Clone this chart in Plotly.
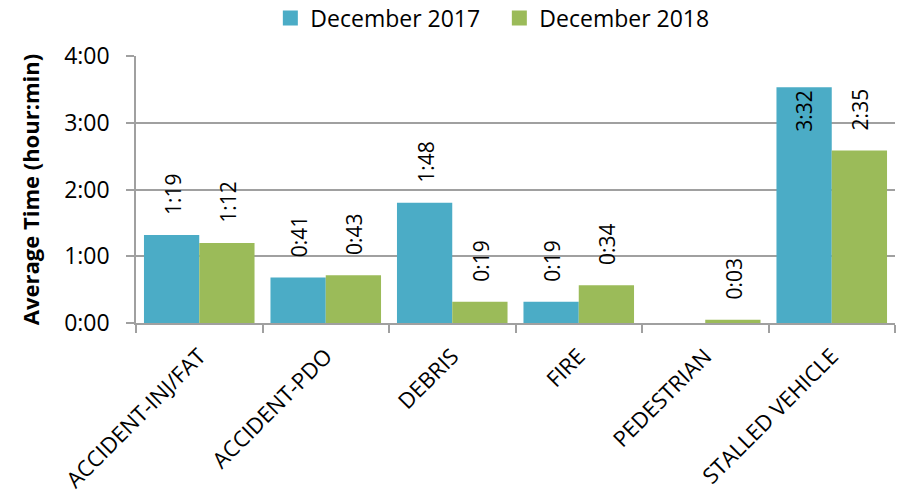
import plotly.graph_objects as go

categories = ["ACCIDENT-INJ/FAT", "ACCIDENT-PDO", "DEBRIS", "FIRE", "PEDESTRIAN", "STALLED VEHICLE"]
minutes_2017 = [79, 41, 108, 19, None, 212]
minutes_2018 = [72, 43, 19, 34, 3, 155]
labels_2017 = ["1:19", "0:41", "1:48", "0:19", "", "3:32"]
labels_2018 = ["1:12", "0:43", "0:19", "0:34", "0:03", "2:35"]
pos_2017 = ["outside", "outside", "outside", "outside", "outside", "inside"]
pos_2018 = ["outside"] * 6
tick_vals = [0, 1, 2, 3, 4]
tick_text = ["0:00", "1:00", "2:00", "3:00", "4:00"]
series_names = ["December 2017", "December 2018"]
colors = ["#4BACC6", "#9BBB59"]

hours_2017 = [m / 60 if m is not None else None for m in minutes_2017]
hours_2018 = [m / 60 for m in minutes_2018]

PAD = "<span style='font-size:22px'>\u00a0\u00a0\u00a0</span>"
def padded(labels, positions):
    return [(PAD + t if (t and p == "outside") else t) for t, p in zip(labels, positions)]

FONT = "Open Sans"
FS = 21

fig = go.Figure()
for name, ys, labels, pos, col in [
    (series_names[0], hours_2017, labels_2017, pos_2017, colors[0]),
    (series_names[1], hours_2018, labels_2018, pos_2018, colors[1]),
]:
    fig.add_trace(go.Bar(
        name=name, x=categories, y=ys, showlegend=False,
        marker=dict(color=col, line=dict(width=0)),
        text=padded(labels, pos), textposition=pos, textangle=-90,
        insidetextanchor="end",
        textfont=dict(family=FONT, size=FS, color="black"),
        cliponaxis=False, hoverinfo="x+y",
    ))
# legend entries with square symbols
for name, col in zip(series_names, colors):
    fig.add_trace(go.Scatter(
        name=name, x=[None], y=[None], mode="markers",
        marker=dict(symbol="square", size=15, color=col),
    ))

fig.update_layout(
    width=901, height=496,
    margin=dict(l=136, r=6, t=56, b=173, autoexpand=False),
    paper_bgcolor="white", plot_bgcolor="white",
    barmode="group", bargap=0.126, bargroupgap=0,
    font=dict(family=FONT, size=FS, color="black"),
    uniformtext=dict(minsize=FS, mode="show"),
    legend=dict(orientation="h", x=0.177, xanchor="left", y=1.142, yanchor="middle",
                font=dict(family=FONT, size=23), itemwidth=30, entrywidth=184,
                tracegroupgap=0),
    xaxis=dict(
        showline=True, linecolor="#a0a0a0", linewidth=1.5,
        ticks="outside", tickson="boundaries", ticklen=8, tickcolor="#a0a0a0", tickwidth=1.5,
        tickangle=-45, tickfont=dict(family=FONT, size=22),
        ticklabelstandoff=10,
        showgrid=False, automargin=False,
    ),
    yaxis=dict(
        range=[0, 4], tickvals=tick_vals, ticktext=tick_text,
        showline=True, linecolor="#a0a0a0", linewidth=1.5,
        ticks="outside", ticklen=8, tickcolor="#a0a0a0", tickwidth=1.5,
        ticklabelstandoff=12,
        showgrid=True, gridcolor="#a0a0a0", gridwidth=1.5,
        tickfont=dict(family=FONT, size=23),
        title=dict(text="<b>Average Time (hour:min)</b>", font=dict(family=FONT, size=22), standoff=18),
        zeroline=False, automargin=False,
    ),
)

fig.write_html("out.html", config={"displayModeBar": False},
               post_script="document.body.style.margin='0px';")
